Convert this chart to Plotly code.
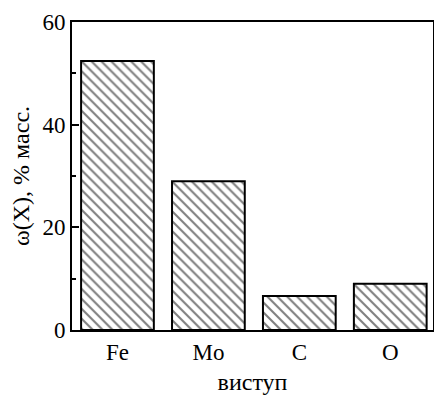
import plotly.graph_objects as go

categories = ["Fe", "Mo", "C", "O"]
values = [52.4, 29.0, 6.6, 9.0]
y_ticks = [0, 20, 40, 60]

FONT = "Liberation Serif, Times New Roman, serif"

fig = go.Figure(
    go.Bar(
        x=categories,
        y=values,
        width=0.8,
        marker=dict(
            color="white",
            line=dict(color="black", width=2),
            pattern=dict(shape="\\", fgcolor="black", bgcolor="white", size=7, solidity=0.3),
        ),
    )
)

fig.update_layout(
    width=434,
    height=397,
    margin=dict(l=72, r=1, t=22, b=67),
    plot_bgcolor="white",
    paper_bgcolor="white",
    font=dict(family=FONT, size=23, color="black"),
    showlegend=False,
    bargap=0.2,
)

fig.update_xaxes(
    range=[-0.5, 3.47],
    automargin=False,
    showline=True,
    linecolor="black",
    linewidth=2,
    mirror=True,
    ticks="",
    showgrid=False,
    title=dict(text="виступ", font=dict(family=FONT, size=24), standoff=10),
    tickfont=dict(family=FONT, size=23),
)

fig.update_yaxes(
    range=[0, 60],
    automargin=False,
    tickvals=y_ticks,
    showline=True,
    linecolor="black",
    linewidth=2,
    mirror=True,
    ticks="inside",
    ticklen=7,
    tickwidth=2,
    tickcolor="black",
    minor=dict(dtick=10, ticks="inside", ticklen=4, tickwidth=1.5, tickcolor="black", showgrid=False),
    showgrid=False,
    zeroline=False,
    title=dict(text="ω(X), % масс.", font=dict(family=FONT, size=24), standoff=6),
    tickfont=dict(family=FONT, size=23),
)

fig.write_html(
    "out.html",
    config={"displayModeBar": False},
    post_script="document.body.style.margin='0';document.body.style.overflow='hidden';",
)
